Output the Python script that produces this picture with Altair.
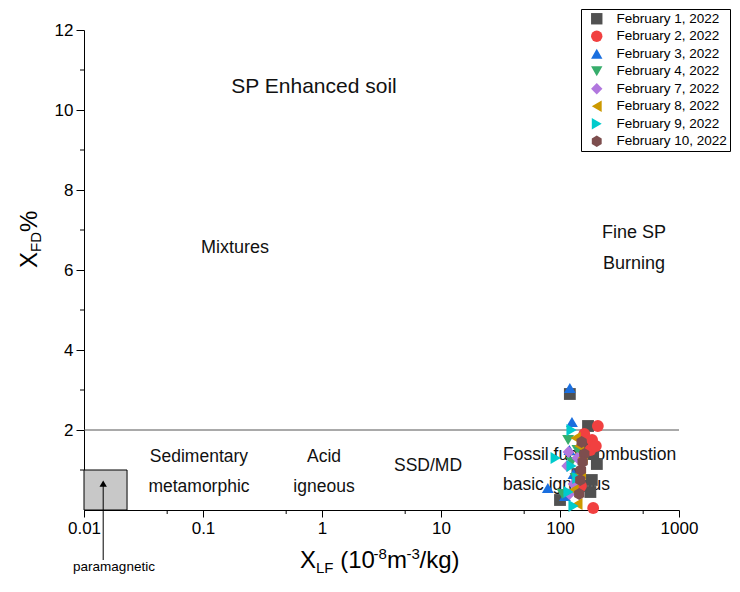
import altair as alt
import pandas as pd

FONT = "Liberation Sans"

# ---------------- data ----------------
series = ["February 1, 2022", "February 2, 2022", "February 3, 2022", "February 4, 2022",
          "February 7, 2022", "February 8, 2022", "February 9, 2022", "February 10, 2022"]
colors = ["#515151", "#F14040", "#1A6FDF", "#37AD6B", "#B177DE", "#CC9900", "#00CBCC", "#7D4E4E"]
HEX = "M0,-1L0.866,-0.5L0.866,0.5L0,1L-0.866,0.5L-0.866,-0.5Z"
shapes = ["square", "circle", "triangle-up", "triangle-down", "diamond",
          "triangle-left", "triangle-right", HEX]

feb1_x = [121, 172, 204, 185, 180, 100, 160, 140, 190, 150]
feb1_y = [2.9, 2.1, 1.15, 0.75, 0.45, 0.25, 1.6, 0.9, 1.4, 0.6]
feb2_x = [208, 186, 180, 190, 160, 150, 200]
feb2_y = [2.1, 1.75, 1.5, 0.05, 1.9, 0.6, 1.6]
feb3_x = [121, 126, 79, 120, 110, 130]
feb3_y = [3.05, 2.2, 0.55, 1.5, 0.35, 0.9]
feb4_x = [117, 125, 135, 105, 140]
feb4_y = [1.75, 1.2, 0.8, 0.4, 1.5]
feb7_x = [118, 115, 120, 130, 140]
feb7_y = [1.45, 1.1, 0.4, 0.65, 1.3]
feb8_x = [135, 145, 140, 150, 130, 155]
feb8_y = [1.8, 1.6, 0.15, 0.9, 0.5, 1.3]
feb9_x = [125, 92, 125, 130, 140, 118]
feb9_y = [2.0, 1.3, 1.1, 0.1, 0.8, 0.45]
feb10_x = [152, 150, 148, 160, 145, 155]
feb10_y = [1.7, 1.0, 0.75, 1.4, 0.4, 1.2]

xs = [feb1_x, feb2_x, feb3_x, feb4_x, feb7_x, feb8_x, feb9_x, feb10_x]
ys = [feb1_y, feb2_y, feb3_y, feb4_y, feb7_y, feb8_y, feb9_y, feb10_y]

x_ticks = [0.01, 0.1, 1, 10, 100, 1000]
x_minor = [0.05, 0.5, 5, 50, 500]
y_ticks = [2, 4, 6, 8, 10, 12]
y_minor = [1, 3, 5, 7, 9, 11]

# region labels
center_labels = ["SP Enhanced soil", "Mixtures", "Fine SP", "Burning", "Sedimentary",
                 "metamorphic", "Acid", "igneous", "SSD/MD"]
center_x = [0.857, 0.186, 419, 419, 0.0925, 0.0925, 1.04, 1.04, 7.78]
center_y = [10.575, 6.55, 6.925, 6.15, 1.325, 0.575, 1.325, 0.575, 1.1]
center_fs = [21, 18, 18, 18, 17.5, 17.5, 17.5, 17.5, 17.5]
left_labels = ["Fossil fuel combustion", "basic igneous"]
left_x = [33.2, 33.2]
left_y = [1.375, 0.625]

box_x = [0.01, 0.023]
box_y = [0, 1]
threshold_y = 2

# ---------------- frames ----------------
rows = []
for s, xv, yv in zip(series, xs, ys):
    for a, b in zip(xv, yv):
        rows.append({"date": s, "x": a, "y": b})
pts = pd.DataFrame(rows)

x_scale = alt.Scale(type="log", domain=[0.01, 1000], nice=False)
y_scale = alt.Scale(domain=[0, 12], nice=False, zero=False)
X_AX = alt.Axis(values=x_ticks, format="~g", title="", tickSize=7, labelFontSize=17,
                labelFlush=False, labelPadding=3, grid=False, labelFont=FONT)
Y_AX = alt.Axis(values=y_ticks, title="", tickSize=8, labelFontSize=17,
                labelPadding=3, grid=False, labelFont=FONT)


def X(f):
    return alt.X(f, type="quantitative", scale=x_scale, axis=X_AX)


def Y(f):
    return alt.Y(f, type="quantitative", scale=y_scale, axis=Y_AX)


box = alt.Chart(pd.DataFrame({"x0": [box_x[0]], "x1": [box_x[1]], "y0": [box_y[0]], "y1": [box_y[1]]})
                ).mark_rect(fill="#c8c8c8", stroke="black", strokeWidth=1).encode(
    x=X("x0"), x2="x1", y=Y("y0"), y2="y1")

hline = alt.Chart(pd.DataFrame({"x0": [0.01], "x1": [1000], "y": [threshold_y]})
                  ).mark_rule(color="#555555", strokeWidth=1).encode(x=X("x0"), x2="x1", y=Y("y"))

ctext = alt.Chart(pd.DataFrame({"t": center_labels, "x": center_x, "y": center_y, "fs": center_fs})
                  ).mark_text(font=FONT, align="center", baseline="middle", color="#111111").encode(
    x=X("x"), y=Y("y"), text="t:N", size=alt.Size("fs:Q", scale=None, legend=None))

ltext = alt.Chart(pd.DataFrame({"t": left_labels, "x": left_x, "y": left_y})
                  ).mark_text(font=FONT, align="left", baseline="middle", fontSize=17.5,
                              color="#111111").encode(x=X("x"), y=Y("y"), text="t:N")

arrow = alt.Chart(pd.DataFrame({"x": [0.0145], "y0": [-1.25], "y1": [0.7]})
                  ).mark_rule(color="black", strokeWidth=1).encode(x=X("x"), y=Y("y0"), y2="y1")
head = alt.Chart(pd.DataFrame({"x": [0.0145], "y": [0.66]})
                 ).mark_point(shape="triangle-up", filled=True, color="black", size=55, opacity=1
                              ).encode(x=X("x"), y=Y("y"))

legend = alt.Legend(orient="none", legendX=497, legendY=-21, padding=3, strokeColor="black",
                    fillColor="white", labelFont=FONT, labelFontSize=13.5, labelColor="black",
                    symbolSize=130, symbolOffset=6, labelOffset=13, rowPadding=2.5,
                    symbolStrokeWidth=0, labelLimit=220)

points = alt.Chart(pts).mark_point(filled=True, size=140, opacity=1, strokeWidth=0).encode(
    x=X("x"), y=Y("y"),
    color=alt.Color("date:N", scale=alt.Scale(domain=series, range=colors), legend=legend, title=None),
    shape=alt.Shape("date:N", scale=alt.Scale(domain=series, range=shapes), legend=legend, title=None),
)

xm = alt.Chart(pd.DataFrame({"x": x_minor})).mark_rule(color="black").encode(
    x=X("x"), y=alt.value(480), y2=alt.value(484))
ym = alt.Chart(pd.DataFrame({"y": y_minor})).mark_rule(color="black").encode(
    y=Y("y"), x=alt.value(-4), x2=alt.value(0))

# axis titles built from pieces (subscripts / superscripts)
BL = 538
pieces = [
    # text, x, y, fontSize, angle
    ("X", 216, BL, 24, 0),
    ("LF", 232, BL + 5, 15, 0),
    ("(10", 256.2, BL, 24, 0),
    ("-8", 289.5, BL - 9, 15, 0),
    ("m", 303, BL, 24, 0),
    ("-3", 322.5, BL - 9, 15, 0),
    ("/kg)", 335.5, BL, 24, 0),
    ("X", -47, 238, 24, 270),
    ("FD", -43, 222, 15, 270),
    ("%", -47, 202, 24, 270),
]
dummy = pd.DataFrame({"a": [0]})
title_layers = []
for t, px, py, fs, ang in pieces:
    title_layers.append(
        alt.Chart(dummy).mark_text(text=t, font=FONT, fontSize=fs, angle=ang, align="left",
                                   baseline="alphabetic", color="black").encode(
            x=alt.value(px), y=alt.value(py)))

para = alt.Chart(dummy).mark_text(text="paramagnetic", font=FONT, fontSize=13.5, align="center",
                                  baseline="middle", color="black").encode(
    x=alt.value(30), y=alt.value(537))

chart = alt.layer(box, hline, ctext, ltext, arrow, head, points, xm, ym, para, *title_layers).properties(
    width=595, height=480,
    autosize=alt.AutoSizeParams(type="none"),
    padding={"left": 76, "top": 22, "right": 53, "bottom": 66},
).configure_view(stroke=None).configure_axis(
    domainColor="black", tickColor="black", labelColor="black", domainWidth=1, tickWidth=1
)

chart.save("out.html", embed_options={"renderer": "svg", "actions": False})
